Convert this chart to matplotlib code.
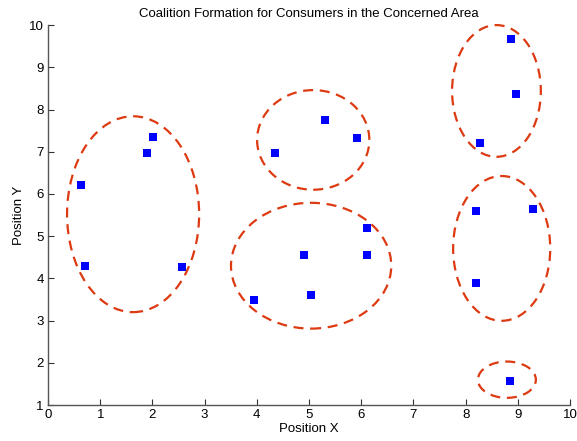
import matplotlib
matplotlib.use('Agg')
import matplotlib.pyplot as plt
from matplotlib.patches import Ellipse

plt.rcParams['font.family'] = ['Liberation Sans', 'DejaVu Sans']

# consumer positions
pos_x = [0.64, 0.71, 1.90, 2.01, 2.57, 3.95, 4.35, 4.90, 5.04, 5.31,
         5.92, 6.11, 6.11, 8.20, 8.20, 8.28, 8.87, 8.97, 9.29, 8.85]
pos_y = [6.21, 4.29, 6.96, 7.36, 4.28, 3.48, 6.97, 4.55, 3.61, 7.76,
         7.33, 5.19, 4.55, 5.59, 3.88, 7.21, 9.68, 8.37, 5.64, 1.57]

# coalition boundaries (center x, center y, width, height)
coal_cx = [1.63, 5.08, 5.04, 8.59, 8.69, 8.79]
coal_cy = [5.52, 7.28, 4.30, 8.44, 4.71, 1.60]
coal_w = [2.53, 2.15, 3.07, 1.70, 1.86, 1.11]
coal_h = [4.64, 2.36, 2.98, 3.12, 3.43, 0.86]

fig = plt.figure(figsize=(5.77, 4.41), dpi=100)
ax = fig.add_axes([0.0832, 0.0816, 0.9048, 0.8615])

for cx, cy, w, h in zip(coal_cx, coal_cy, coal_w, coal_h):
    ax.add_patch(Ellipse((cx, cy), w, h, fill=False, edgecolor='#dd3a12',
                         linewidth=1.6, linestyle=(0, (4.5, 3)), clip_on=False))

ax.plot(pos_x, pos_y, 's', color='#0000ff', markersize=5.5, markeredgewidth=0)

ax.set_xlim(0, 10)
ax.set_ylim(1, 10)
ax.set_xticks(range(0, 11))
ax.set_yticks(range(1, 11))
for s in ['top', 'right']:
    ax.spines[s].set_visible(False)
for s in ['left', 'bottom']:
    ax.spines[s].set_color('#555555')
    ax.spines[s].set_linewidth(1.0)
ax.tick_params(direction='in', length=4, width=0.8, color='#333333', labelsize=9.5, pad=3)
ax.set_xlabel('Position X', fontsize=9.5, labelpad=1)
ax.set_ylabel('Position Y', fontsize=9.5, labelpad=3)
ax.set_title('Coalition Formation for Consumers in the Concerned Area', fontsize=9.5, pad=6)

fig.savefig('out.png', dpi=100)
